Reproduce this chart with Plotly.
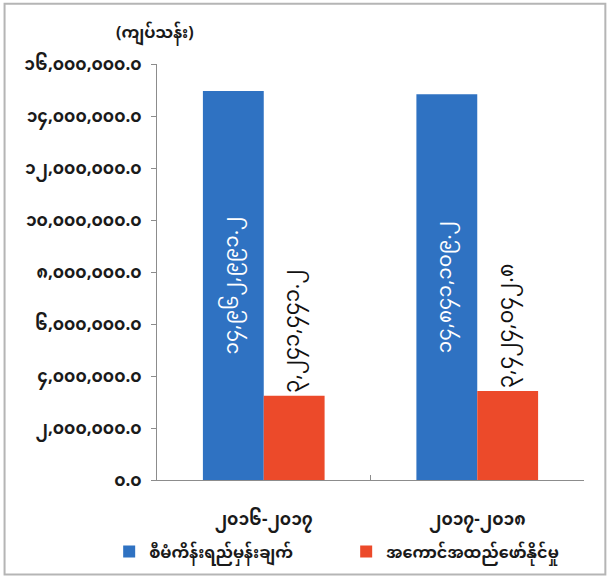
import plotly.graph_objects as go

categories = ["၂၀၁၆-၂၀၁၇", "၂၀၁၇-၂၀၁၈"]
series_names = ["စီမံကိန်းရည်မှန်းချက်", "အကောင်အထည်ဖော်နိုင်မှု"]
plan_values = [14962991.2, 14841109.2]
actual_values = [3241441.2, 3424042.8]
tick_values = [0, 2000000, 4000000, 6000000, 8000000, 10000000, 12000000, 14000000, 16000000]
unit_label = "(ကျပ်သန်း)"

MM = str.maketrans("0123456789", "၀၁၂၃၄၅၆၇၈၉")


def mm(v, dec=1):
    return f"{v:,.{dec}f}".translate(MM)


tick_text = ["<b>" + mm(v) + "</b>" for v in tick_values]
cat_text = ["<b>" + c + "</b>" for c in categories]

FONT = "Noto Sans Myanmar, Padauk, Myanmar Text, DejaVu Sans, sans-serif"

fig = go.Figure()
fig.add_trace(go.Bar(
    x=categories, y=plan_values, name="<b>" + series_names[0] + "</b>",
    marker=dict(color="#2F72C2", line=dict(width=0)),
    text=[mm(v) for v in plan_values], textposition="inside",
    insidetextanchor="middle", textangle=-90, constraintext="none",
    textfont=dict(color="white", size=20, family=FONT),
))
fig.add_trace(go.Bar(
    x=categories, y=actual_values, name="<b>" + series_names[1] + "</b>",
    marker=dict(color="#EC4A2A", line=dict(width=0)),
    text=[mm(v) for v in actual_values], textposition="outside",
    textangle=-90, cliponaxis=False, constraintext="none",
    textfont=dict(color="#111111", size=21, family=FONT),
))

fig.update_layout(
    width=612, height=577,
    margin=dict(l=157, r=28, t=64, b=97, autoexpand=False),
    paper_bgcolor="white", plot_bgcolor="white",
    barmode="group", bargap=0.43, bargroupgap=0,
    font=dict(family=FONT, color="#1a1a1a", size=13),
    showlegend=True,
    legend=dict(orientation="h", x=-0.112, xanchor="left", y=-0.172, yanchor="middle",
                entrywidth=192, entrywidthmode="pixels", itemwidth=30,
                font=dict(size=16, color="#1a1a1a"), bgcolor="rgba(0,0,0,0)"),
    xaxis=dict(type="category", showgrid=False, showline=True, linecolor="#8c8c8c",
               linewidth=1, ticks="inside", tickson="boundaries", ticklen=5,
               tickcolor="#8c8c8c", tickvals=categories, ticktext=cat_text,
               ticklabelstandoff=24, automargin=False,
               tickfont=dict(size=17, color="#1a1a1a")),
    yaxis=dict(range=[0, 16000000], tickvals=tick_values, ticktext=tick_text,
               showgrid=False, showline=True, linecolor="#8c8c8c", linewidth=1,
               ticks="outside", ticklen=5, tickcolor="#8c8c8c", zeroline=False,
               automargin=False, ticklabelstandoff=6,
               tickfont=dict(size=17, color="#1a1a1a")),
    annotations=[dict(text="<b>" + unit_label + "</b>", xref="paper", yref="paper",
                      x=-0.1, y=1.07, xanchor="left", yanchor="middle", showarrow=False,
                      font=dict(size=16, color="#1a1a1a"))],
    shapes=[dict(type="rect", xref="paper", yref="paper",
                 x0=-0.357, x1=1.05, y0=-0.227, y1=1.145,
                 line=dict(color="#b5b5b5", width=2), fillcolor="rgba(0,0,0,0)",
                 layer="below")],
)

fig.write_html("out.html", config={"displayModeBar": False},
               post_script="document.body.style.margin='0';")
